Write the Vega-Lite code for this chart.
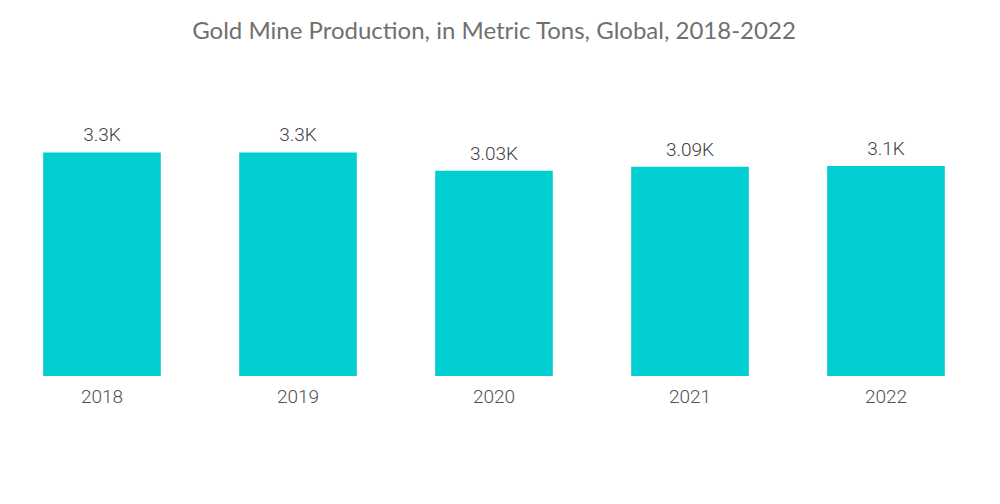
{
  "$schema": "https://vega.github.io/schema/vega-lite/v6.json",
  "autosize": {"type": "none"},
  "padding": {"left": 4, "top": 105, "right": 16, "bottom": 128},
  "width": 980,
  "height": 271,
  "background": "white",
  "title": {
    "text": "Gold Mine Production, in Metric Tons, Global, 2018-2022",
    "font": "Lato",
    "fontSize": 24,
    "fontWeight": "normal",
    "color": "#707070",
    "anchor": "middle",
    "offset": 61
  },
  "data": {
    "values": [
      {"year": "2018", "value": 3300, "label": "3.3K"},
      {"year": "2019", "value": 3300, "label": "3.3K"},
      {"year": "2020", "value": 3030, "label": "3.03K"},
      {"year": "2021", "value": 3090, "label": "3.09K"},
      {"year": "2022", "value": 3100, "label": "3.1K"}
    ]
  },
  "encoding": {
    "x": {
      "field": "year",
      "type": "nominal",
      "sort": null,
      "scale": {"paddingInner": 0.4, "paddingOuter": 0.2},
      "axis": {
        "title": null,
        "labelAngle": 0,
        "domain": false,
        "ticks": false,
        "labelFont": "Roboto",
        "labelFontSize": 19,
        "labelFontWeight": 300,
        "labelColor": "#505050",
        "labelPadding": 11
      }
    },
    "y": {
      "field": "value",
      "type": "quantitative",
      "scale": {"domain": [0, 4000]},
      "axis": null
    }
  },
  "layer": [
    {"mark": {"type": "bar", "color": "#00CED1"}},
    {
      "mark": {
        "type": "text",
        "baseline": "alphabetic",
        "dy": -11,
        "font": "Roboto",
        "fontSize": 19,
        "fontWeight": 300,
        "color": "#404040"
      },
      "encoding": {"text": {"field": "label"}}
    }
  ],
  "config": {"view": {"stroke": null}}
}
